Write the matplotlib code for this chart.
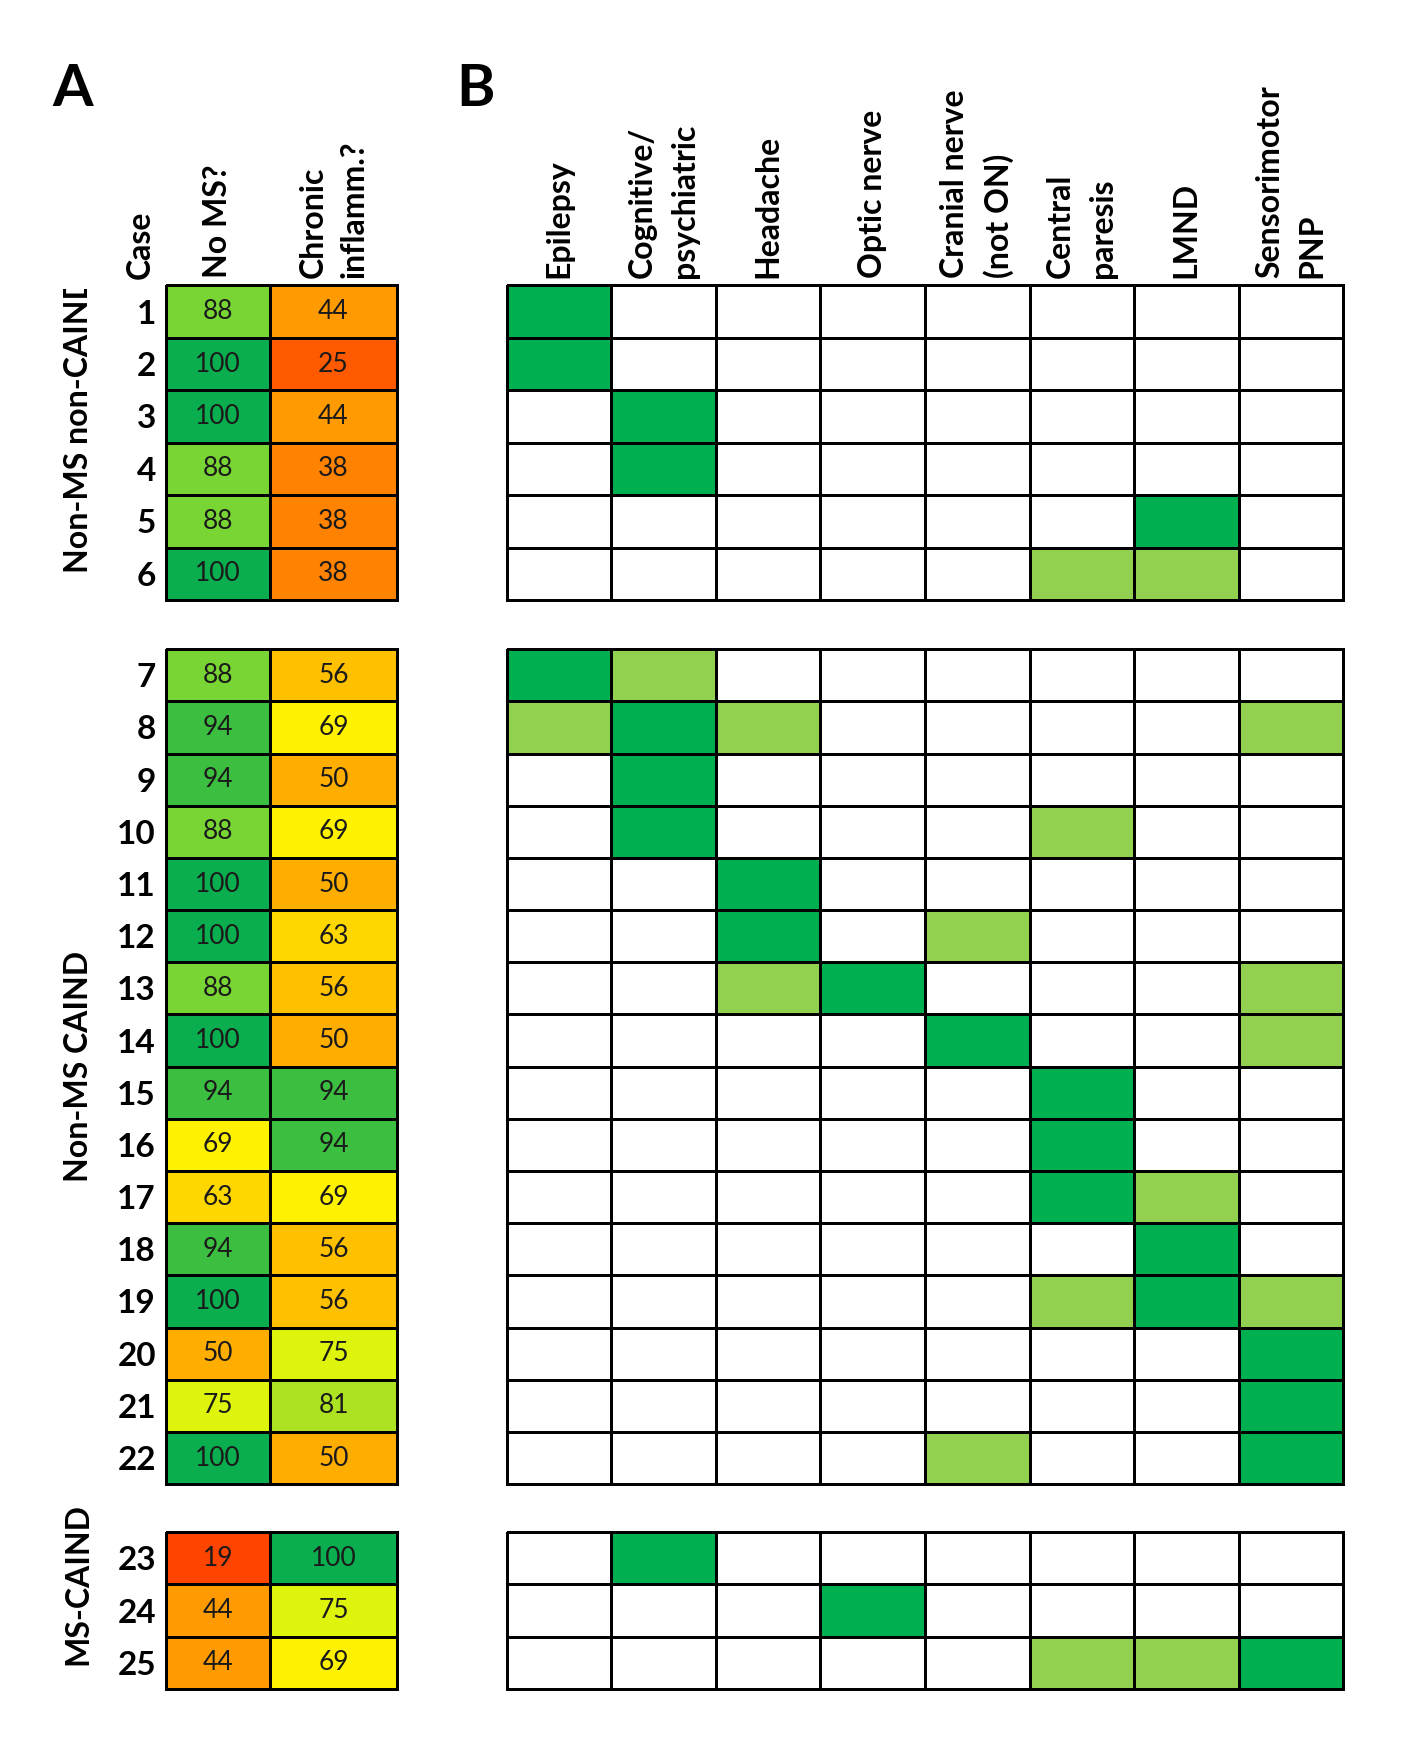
import matplotlib
matplotlib.use("Agg")
import matplotlib.pyplot as plt
import numpy as np
from matplotlib.colors import LinearSegmentedColormap, ListedColormap, Normalize
from matplotlib.transforms import Bbox

plt.rcParams['font.family'] = ['Lato', 'DejaVu Sans']

# Datos
cases = list(range(1, 26))
groups = ["Non-MS non-CAIND", "Non-MS CAIND", "MS-CAIND"]
group_sizes = [6, 16, 3]

no_ms = [88, 100, 100, 88, 88, 100,
         88, 94, 94, 88, 100, 100, 88, 100, 94, 69, 63, 94, 100, 50, 75, 100,
         19, 44, 44]
chronic = [44, 25, 44, 38, 38, 38,
           56, 69, 50, 69, 50, 63, 56, 50, 94, 94, 69, 56, 56, 75, 81, 50,
           100, 75, 69]
a_headers = ["No MS?", "Chronic\ninflamm.?"]

b_headers = ["Epilepsy", "Cognitive/\npsychiatric", "Headache", "Optic nerve",
             "Cranial nerve\n(not ON)", "Central\nparesis", "LMND", "Sensorimotor\nPNP"]
# 0 = ninguno, 1 = verde claro, 2 = verde oscuro
symptoms = [
    [2, 0, 0, 0, 0, 0, 0, 0],
    [2, 0, 0, 0, 0, 0, 0, 0],
    [0, 2, 0, 0, 0, 0, 0, 0],
    [0, 2, 0, 0, 0, 0, 0, 0],
    [0, 0, 0, 0, 0, 0, 2, 0],
    [0, 0, 0, 0, 0, 1, 1, 0],
    [2, 1, 0, 0, 0, 0, 0, 0],
    [1, 2, 1, 0, 0, 0, 0, 1],
    [0, 2, 0, 0, 0, 0, 0, 0],
    [0, 2, 0, 0, 0, 1, 0, 0],
    [0, 0, 2, 0, 0, 0, 0, 0],
    [0, 0, 2, 0, 1, 0, 0, 0],
    [0, 0, 1, 2, 0, 0, 0, 1],
    [0, 0, 0, 0, 2, 0, 0, 1],
    [0, 0, 0, 0, 0, 2, 0, 0],
    [0, 0, 0, 0, 0, 2, 0, 0],
    [0, 0, 0, 0, 0, 2, 1, 0],
    [0, 0, 0, 0, 0, 0, 2, 0],
    [0, 0, 0, 0, 0, 1, 2, 1],
    [0, 0, 0, 0, 0, 0, 0, 2],
    [0, 0, 0, 0, 0, 0, 0, 2],
    [0, 0, 0, 0, 1, 0, 0, 2],
    [0, 2, 0, 0, 0, 0, 0, 0],
    [0, 0, 0, 2, 0, 0, 0, 0],
    [0, 0, 0, 0, 0, 1, 1, 2],
]

# Escala de color rojo-amarillo-verde
score_cmap = LinearSegmentedColormap.from_list("score", [
    (0.00, "#FF1A00"), (0.19, "#FF4400"), (0.25, "#FF5A00"), (0.38, "#FF8200"),
    (0.44, "#FF9A00"), (0.50, "#FFAD00"), (0.56, "#FFC000"), (0.63, "#FFD600"),
    (0.69, "#FFF200"), (0.75, "#E0F50C"), (0.81, "#AEE222"), (0.88, "#7BD634"),
    (0.94, "#3DBE40"), (1.00, "#0AAE4E")])
sym_cmap = ListedColormap(["white", "#92D050", "#00B050"])

# Geometría (coordenadas de la imagen de referencia)
W, H = 1267.0, 1568.0
a_left, a_right, a_div = 148, 355, 241
b_left, b_right = 453, 1200
group_px = [(255, 536), (580, 1326), (1369, 1509)]
label_y = [None, 953, 1415]

fig = plt.figure(figsize=(14.18, 17.55), dpi=100)

a_x = np.array([0, 1, 1 + (a_right - a_div) / (a_div - a_left)])
score = np.column_stack([no_ms, chronic])
sym = np.array(symptoms)

start = 0
for g, n in enumerate(group_sizes):
    top, bot = group_px[g]
    rows = slice(start, start + n)
    y_edges = np.arange(n + 1)

    # Panel A
    axa = fig.add_axes([a_left / W, 1 - bot / H, (a_right - a_left) / W, (bot - top) / H])
    m = axa.pcolormesh(a_x, y_edges, score[rows], cmap=score_cmap, norm=Normalize(0, 100),
                       edgecolors="black", linewidth=2.0)
    m.set_clip_on(False)
    axa.set_xlim(a_x[0], a_x[-1])
    axa.set_ylim(n, 0)
    for i in range(n):
        for j in range(2):
            axa.text((a_x[j] + a_x[j + 1]) / 2, i + 0.5, str(score[start + i, j]),
                     ha="center", va="center", fontsize=19, color="#1a1a1a")
    axa.set_yticks(np.arange(n) + 0.5, [str(c) for c in cases[rows]])
    axa.tick_params(axis="y", length=0, pad=7, labelsize=24)
    for lbl in axa.get_yticklabels():
        lbl.set_fontweight("bold")
    if g == 0:
        axa.xaxis.tick_top()
        axa.set_xticks((a_x[:-1] + a_x[1:]) / 2, a_headers, rotation=90)
        axa.tick_params(axis="x", length=0, pad=5, labelsize=23)
        for lbl in axa.get_xticklabels():
            lbl.set_fontweight("bold")
            lbl.set_multialignment("left")
            lbl.set_linespacing(1.5)
    else:
        axa.set_xticks([])
    for s in axa.spines.values():
        s.set_visible(False)

    # Panel B
    axb = fig.add_axes([b_left / W, 1 - bot / H, (b_right - b_left) / W, (bot - top) / H])
    mb = axb.pcolormesh(np.arange(9), y_edges, sym[rows], cmap=sym_cmap, vmin=-0.5, vmax=2.5,
                        edgecolors="black", linewidth=2.0)
    mb.set_clip_on(False)
    axb.set_xlim(0, 8)
    axb.set_ylim(n, 0)
    axb.set_yticks([])
    if g == 0:
        axb.xaxis.tick_top()
        axb.set_xticks(np.arange(8) + 0.5, b_headers, rotation=90)
        axb.tick_params(axis="x", length=0, pad=5, labelsize=23)
        for lbl in axb.get_xticklabels():
            lbl.set_fontweight("bold")
            lbl.set_multialignment("left")
            lbl.set_linespacing(1.55)
    else:
        axb.set_xticks([])
    for s in axb.spines.values():
        s.set_visible(False)

    # Etiqueta de grupo
    if g == 0:
        t = fig.text(70 / W, 1 - 512 / H, groups[g], rotation=90, ha="center", va="bottom",
                     fontsize=23, fontweight="bold")
        fig_w = fig.get_figwidth() * fig.dpi
        fig_h = fig.get_figheight() * fig.dpi
        t.set_clip_box(Bbox([[0, 0], [fig_w, fig_h * (1 - 258 / H)]]))
        t.set_clip_on(True)
    else:
        fig.text(70 / W, 1 - label_y[g] / H, groups[g], rotation=90, ha="center", va="center",
                 fontsize=23, fontweight="bold")
    start += n

fig.text(125 / W, 1 - 249 / H, "Case", rotation=90, ha="center", va="bottom",
         fontsize=23, fontweight="bold")
fig.text(65 / W, 1 - 80 / H, "A", ha="center", va="center", fontsize=42, fontweight="bold")
fig.text(425 / W, 1 - 80 / H, "B", ha="center", va="center", fontsize=42, fontweight="bold")

fig.savefig("out.png", dpi=100, facecolor="white")
